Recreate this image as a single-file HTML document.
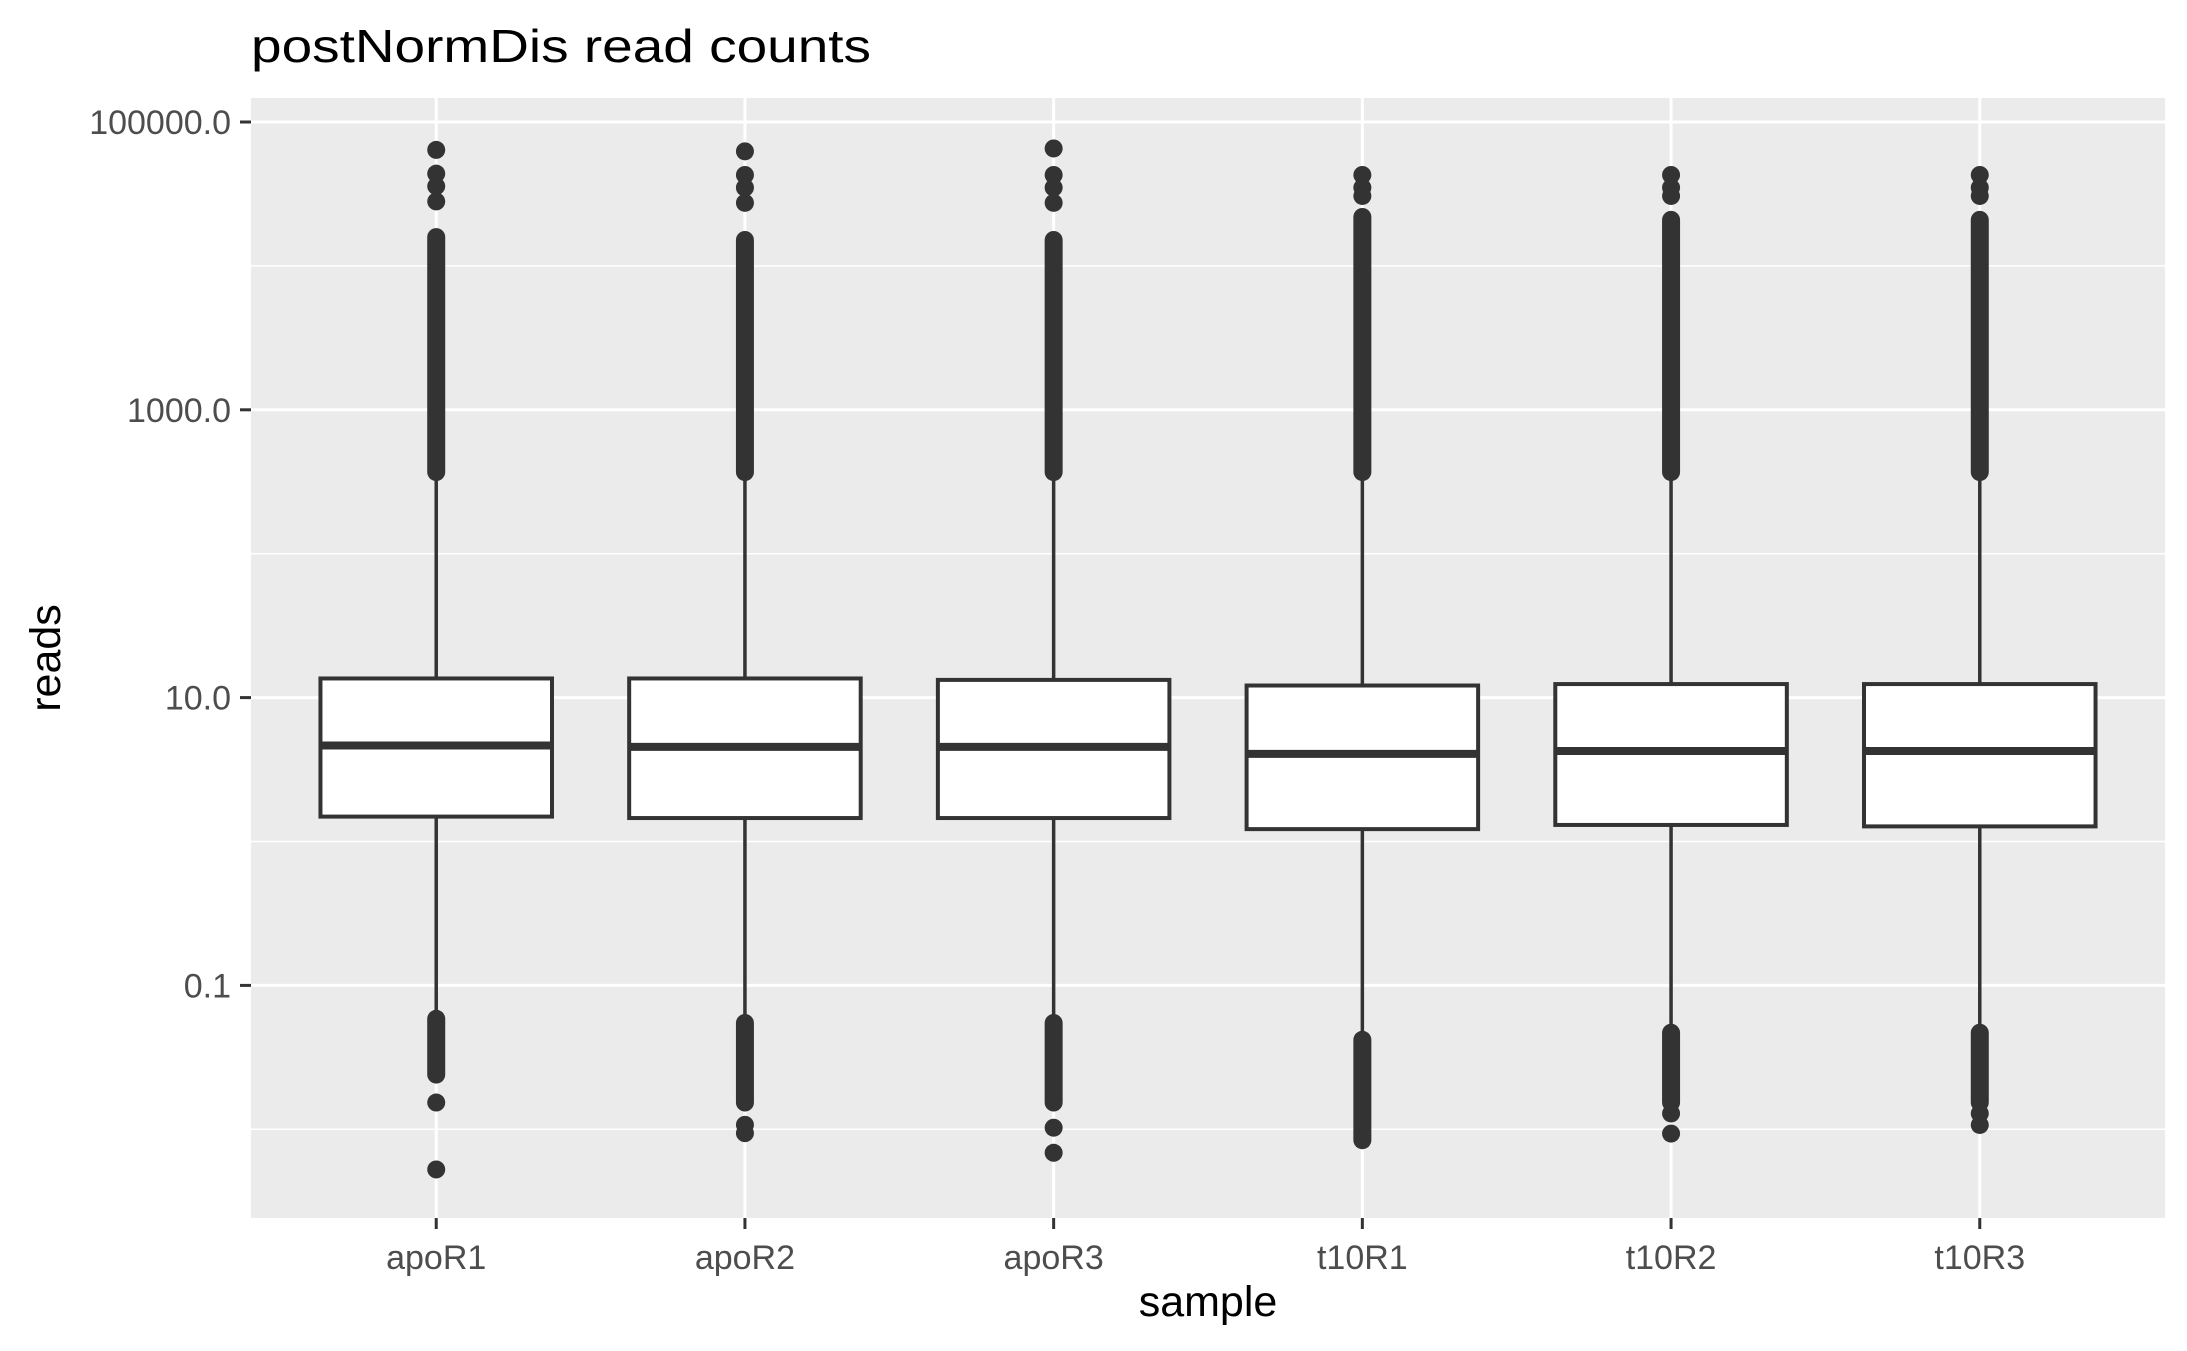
<!DOCTYPE html>
<html><head><meta charset="utf-8"><title>postNormDis read counts</title>
<style>html,body{margin:0;padding:0;background:#fff}svg{display:block}</style></head>
<body>
<svg id="chart" width="2187" height="1351" xmlns="http://www.w3.org/2000/svg" font-family="Liberation Sans, Arial, sans-serif">
<text x="251" y="62" font-size="46" fill="#000" textLength="620" lengthAdjust="spacingAndGlyphs">postNormDis read counts</text>
<rect x="251" y="98" width="1914" height="1120" fill="#ebebeb"/>
<g id="grid"></g><g id="marks"></g><g id="axes"></g>
<text x="1208" y="1316" font-size="43" text-anchor="middle" fill="#000">sample</text>
<text transform="translate(60,658) rotate(-90)" font-size="43" text-anchor="middle" fill="#000">reads</text>
</svg>
<script>
// Data (log10 of reads)
const categories = ["apoR1","apoR2","apoR3","t10R1","t10R2","t10R3"];
const q1 = [0.173, 0.163, 0.163, 0.086, 0.115, 0.105];
const median = [0.667, 0.658, 0.658, 0.609, 0.629, 0.629];
const q3 = [1.133, 1.133, 1.123, 1.084, 1.094, 1.094];
const whiskerHigh = [2.567, 2.567, 2.567, 2.567, 2.567, 2.567];
const whiskerLow = [-1.232, -1.261, -1.261, -1.378, -1.329, -1.329];
const denseHighTop = [4.2, 4.18, 4.18, 4.34, 4.32, 4.32];
const denseLowBottom = [-1.62, -1.814, -1.814, -2.076, -1.814, -1.814];
const outliersHigh = [[4.806,4.641,4.554,4.448],[4.796,4.632,4.544,4.438],[4.816,4.632,4.544,4.438],[4.632,4.544,4.486],[4.632,4.544,4.486],[4.632,4.544,4.486]];
const outliersLow = [[-1.814,-2.279],[-1.969,-2.027],[-1.989,-2.163],[],[-1.89,-2.03],[-1.89,-1.97]];
const yTicks = [5, 3, 1, -1];
const yTickLabels = ["100000.0","1000.0","10.0","0.1"];
const yMinor = [4, 2, 0, -2];

const NS="http://www.w3.org/2000/svg";
const L=251,R=2165,T=98,B=1218;
const step=(R-L)/(categories.length+0.2);
function x(i){return L+step*(0.6+i);}
function y(v){return 697.6-(v-1)*143.9;}
function mk(tag,attrs,parent){const e=document.createElementNS(NS,tag);for(const k in attrs)e.setAttribute(k,attrs[k]);parent.appendChild(e);return e;}
const grid=document.getElementById('grid'),marks=document.getElementById('marks'),axes=document.getElementById('axes');
yMinor.forEach(v=>{const e=mk('line',{x1:L,x2:R,y1:y(v),y2:y(v),stroke:'#fff','stroke-width':1.5},grid);

});
yTicks.forEach((v,i)=>{const e=mk('line',{x1:L,x2:R,y1:y(v),y2:y(v),stroke:'#fff','stroke-width':3},grid);


const t=mk('line',{x1:240,x2:251,y1:y(v),y2:y(v),stroke:'#333','stroke-width':3},axes);


const lb=mk('text',{x:231,y:y(v)+12,'font-size':34,'text-anchor':'end',fill:'#4d4d4d'},axes);
lb.textContent=yTickLabels[i];

});
categories.forEach((c,i)=>{const cx=x(i);
const g=mk('line',{x1:cx,x2:cx,y1:T,y2:B,stroke:'#fff','stroke-width':3},grid);


const t=mk('line',{x1:cx,x2:cx,y1:B,y2:B+11,stroke:'#333','stroke-width':3},axes);


const lb=mk('text',{x:cx,y:1269,'font-size':34,'text-anchor':'middle',fill:'#4d4d4d'},axes);
lb.textContent=c;


const grp=mk('g',{},marks);


const hw=step*0.375;
mk('line',{x1:cx,x2:cx,y1:y(whiskerHigh[i]),y2:y(q3[i]),stroke:'#333','stroke-width':3.5},grp);
mk('line',{x1:cx,x2:cx,y1:y(q1[i]),y2:y(whiskerLow[i]),stroke:'#333','stroke-width':3.5},grp);
mk('rect',{x:cx-hw,y:y(q3[i]),width:2*hw,height:y(q1[i])-y(q3[i]),fill:'#fff',stroke:'#333','stroke-width':4},grp);
mk('line',{x1:cx-hw,x2:cx+hw,y1:y(median[i]),y2:y(median[i]),stroke:'#333','stroke-width':8},grp);
const r=9;
const bh=mk('rect',{x:cx-r,y:y(denseHighTop[i])-r,width:2*r,height:y(whiskerHigh[i])-y(denseHighTop[i])+2*r,rx:r,fill:'#333'},grp);


const bl=mk('rect',{x:cx-r,y:y(whiskerLow[i])-r,width:2*r,height:y(denseLowBottom[i])-y(whiskerLow[i])+2*r,rx:r,fill:'#333'},grp);


outliersHigh[i].concat(outliersLow[i]).forEach(v=>{const p=mk('circle',{cx:cx,cy:y(v),r:r,fill:'#333'},grp);

});
});
</script>
</body></html>
